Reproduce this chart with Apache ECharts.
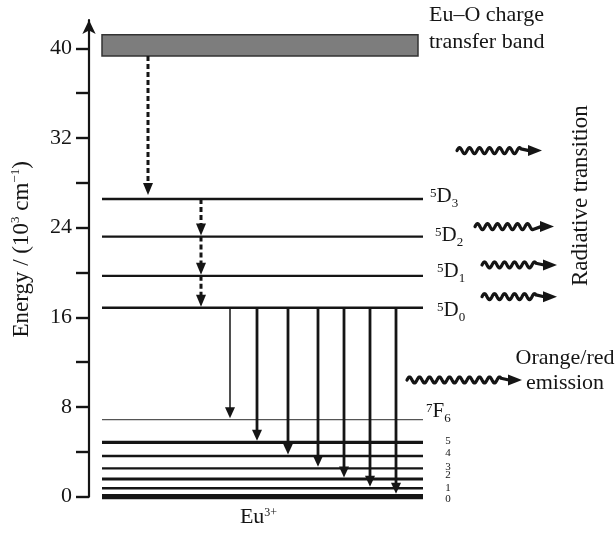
<!DOCTYPE html>
<html>
<head>
<meta charset="utf-8">
<script src="https://cdn.jsdelivr.net/npm/echarts@6/dist/echarts.min.js"></script>
<style>
  html, body { margin: 0; padding: 0; background: #fff; }
  #main { width: 616px; height: 533px; }
</style>
</head>
<body>
<div id="main"></div>
<script>
// energies in 10^3 cm^-1, x in arbitrary diagram units
var ctBand = [39.3, 41.2];
var dLevels = [26.56, 23.2, 19.7, 16.86];              // 5D3 .. 5D0
var dNames = ['3', '2', '1', '0'];
var fLevels = [6.87, 4.85, 3.63, 2.53, 1.58, 0.75, 0];  // 7F6 .. 7F0
var fNames = ['6', '5', '4', '3', '2', '1', '0'];
var levelX = [13, 334];
var bandEndX = 329;
var relaxX = [59, 112];
var emissionX = [141, 168, 199, 229, 255, 281, 307];
var waveStartX = [368, 386, 393, 393];
var waveEndX = [453, 465, 468, 468];
var radiativeY = [30.87, 24.09, 20.67, 17.84];
var orangeWaveX = [318, 433];
var orangeWaveY = 10.41;
var yTicks = [0, 4, 8, 12, 16, 20, 24, 28, 32, 36, 40];
var yLabels = [0, 8, 16, 24, 32, 40];

var FONT = 'Liberation Serif';
var INK = '#151515';
var fWidths = [1.3, 3.4, 2.4, 2.4, 2.8, 2.4, 5.2];
var dDx = [7, 12, 14, 14], dDy = [-2.5, -1.3, -4.4, 3.3];
var fDy = [-7.7, -1.6, -2.7, -1.6, -4, 0, 2.6];

var chart = echarts.init(document.getElementById('main'));

function head(tip, w, h, dir) {
  // dir 'down' or 'right'
  var pts = dir === 'right'
    ? [[tip[0], tip[1]], [tip[0] - h, tip[1] - w / 2], [tip[0] - h, tip[1] + w / 2]]
    : [[tip[0], tip[1]], [tip[0] - w / 2, tip[1] - h], [tip[0] + w / 2, tip[1] - h]];
  return { type: 'polygon', shape: { points: pts }, style: { fill: INK } };
}

function wave(p0, p1) {
  var headLen = 14, straight = 7, period = 10, amp = 3;
  var waveEnd = p1[0] - headLen - straight;
  var pts = [];
  for (var x = p0[0]; x <= waveEnd; x += 0.5) {
    pts.push([x, p0[1] - amp * Math.sin(2 * Math.PI * (x - p0[0]) / period)]);
  }
  pts.push([p1[0] - headLen + 1, p0[1]]);
  return {
    type: 'group',
    children: [
      { type: 'polyline', shape: { points: pts }, style: { stroke: INK, lineWidth: 3.2, fill: null, lineJoin: 'round', lineCap: 'round' } },
      head(p1, 11, headLen, 'right')
    ]
  };
}

var levelData = dLevels.concat(fLevels).map(function (e, i) { return [i, e]; });
var relaxSteps = [[relaxX[0], ctBand[0], dLevels[0]]].concat(
  dLevels.slice(0, 3).map(function (e, i) { return [relaxX[1], e, dLevels[i + 1]]; })
);
var waveData = waveStartX.map(function (x, i) { return [x, radiativeY[i], waveEndX[i]]; })
  .concat([[orangeWaveX[0], orangeWaveY, orangeWaveX[1]]]);

var supRich = {
  sup: { fontFamily: FONT, fontSize: 13, fill: INK, verticalAlign: 'top', height: 16 },
  main: { fontFamily: FONT, fontSize: 21, fill: INK, verticalAlign: 'middle', lineHeight: 22 },
  sub: { fontFamily: FONT, fontSize: 13, fill: INK, verticalAlign: 'bottom', height: 8 }
};

chart.setOption({
  animation: false,
  grid: { left: 89, right: 0, top: 20, bottom: 36.3, containLabel: false, outerBoundsMode: 'none' },
  xAxis: { type: 'value', min: 0, max: 527, show: false },
  yAxis: {
    type: 'value', min: 0, max: 42.52,
    axisLine: { show: true, symbol: ['none', 'arrow'], symbolSize: [10, 14], lineStyle: { color: INK, width: 2.2 } },
    axisTick: { show: true, length: 13, customValues: yTicks, lineStyle: { color: INK, width: 2.4 } },
    axisLabel: { customValues: yLabels, margin: 17, fontFamily: FONT, fontSize: 22, color: INK },
    splitLine: { show: false },
    name: 'Energy / (10{sup|3} cm{sup|\u22121})',
    nameLocation: 'middle', nameRotate: 90, nameGap: 55,
    nameTextStyle: {
      fontFamily: FONT, fontSize: 23, color: INK, lineHeight: 25, padding: [0, 0, 0, 18],
      rich: { sup: { fontFamily: FONT, fontSize: 13, color: INK, verticalAlign: 'top', height: 14 } }
    }
  },
  series: [
    {
      type: 'custom', name: 'band', silent: true,
      data: [[levelX[0], ctBand[0]]],
      renderItem: function (params, api) {
        var a = api.coord([levelX[0], ctBand[1]]);
        var b = api.coord([bandEndX, ctBand[0]]);
        return {
          type: 'rect',
          shape: { x: a[0], y: a[1], width: b[0] - a[0], height: b[1] - a[1] },
          style: { fill: '#7d7d7d', stroke: '#333', lineWidth: 1.5 }
        };
      }
    },
    {
      type: 'custom', name: 'levels', silent: true,
      data: levelData,
      renderItem: function (params, api) {
        var e = api.value(1), i = params.dataIndex;
        var a = api.coord([levelX[0], e]), b = api.coord([levelX[1], e]);
        var isF = i >= dLevels.length;
        return {
          type: 'line',
          shape: { x1: a[0], y1: a[1], x2: b[0], y2: b[1] },
          style: { stroke: i === dLevels.length ? '#555' : INK, lineWidth: isF ? fWidths[i - dLevels.length] : 2.4 }
        };
      }
    },
    {
      type: 'custom', name: 'relaxation', silent: true,
      data: relaxSteps,
      renderItem: function (params, api) {
        var x = api.value(0);
        var a = api.coord([x, api.value(1)]);
        var tip = api.coord([x, api.value(2)]);
        tip[1] -= params.dataIndex === 0 ? 4 : 1;
        return {
          type: 'group',
          children: [
            { type: 'line', shape: { x1: a[0], y1: a[1], x2: tip[0], y2: tip[1] - 5 },
              style: { stroke: INK, lineWidth: 3, lineDash: [5, 3] } },
            head(tip, 10, 12, 'down')
          ]
        };
      }
    },
    {
      type: 'custom', name: 'emission', silent: true,
      data: emissionX.map(function (x, i) { return [x, fLevels[i]]; }),
      renderItem: function (params, api) {
        var x = api.value(0);
        var top = api.coord([x, dLevels[3]]);
        var tip = api.coord([x, api.value(1)]);
        tip[1] -= params.dataIndex === fLevels.length - 1 ? 3 : 1.5;
        return {
          type: 'group',
          children: [
            { type: 'line', shape: { x1: top[0], y1: top[1], x2: tip[0], y2: tip[1] - 8 },
              style: { stroke: INK, lineWidth: params.dataIndex === 0 ? 1.5 : 2.8 } },
            head(tip, 10, 11, 'down')
          ]
        };
      }
    },
    {
      type: 'custom', name: 'waves', silent: true,
      data: waveData,
      renderItem: function (params, api) {
        var p0 = api.coord([api.value(0), api.value(1)]);
        var p1 = api.coord([api.value(2), api.value(1)]);
        return wave(p0, p1);
      }
    },
    {
      type: 'custom', name: 'labels', silent: true,
      data: [[0, 0]],
      renderItem: function (params, api) {
        var kids = [];
        dLevels.forEach(function (e, i) {
          var p = api.coord([levelX[1], e]);
          kids.push({ type: 'text', style: {
            text: '{sup|5}{main|D}{sub|' + dNames[i] + '}', rich: supRich,
            x: p[0] + dDx[i], y: p[1] + dDy[i], align: 'left', verticalAlign: 'middle'
          } });
        });
        fLevels.forEach(function (e, i) {
          var p = api.coord([levelX[1], e]);
          if (i === 0) {
            kids.push({ type: 'text', style: {
              text: '{sup|7}{main|F}{sub|' + fNames[i] + '}', rich: supRich,
              x: p[0] + 3, y: p[1] + fDy[i], align: 'left', verticalAlign: 'middle'
            } });
          } else {
            kids.push({ type: 'text', style: {
              text: fNames[i], fontFamily: FONT, fontSize: 11, fill: INK,
              x: p[0] + 25, y: p[1] + fDy[i], align: 'center', verticalAlign: 'middle'
            } });
          }
        });
        var band = api.coord([bandEndX, ctBand[1]]);
        kids.push({ type: 'text', style: {
          text: 'Eu\u2013O charge\ntransfer band', fontFamily: FONT, fontSize: 22, fill: INK, lineHeight: 27,
          x: band[0] + 11, y: band[1] - 6, align: 'left', verticalAlign: 'middle'
        } });
        var radMid = api.coord([Math.max.apply(null, waveEndX),
          (Math.max.apply(null, radiativeY) + Math.min.apply(null, radiativeY)) / 2]);
        kids.push({ type: 'text', rotation: Math.PI / 2, x: radMid[0] + 24, y: radMid[1] - 28, style: {
          text: 'Radiative transition', fontFamily: FONT, fontSize: 23, fill: INK,
          x: 0, y: 0, align: 'center', verticalAlign: 'middle'
        } });
        var ow = api.coord([orangeWaveX[1], orangeWaveY]);
        kids.push({ type: 'text', style: {
          text: 'Orange/red\nemission', fontFamily: FONT, fontSize: 22, fill: INK, lineHeight: 25,
          x: ow[0] + 43, y: ow[1] - 9.5, align: 'center', verticalAlign: 'middle'
        } });
        var base = api.coord([(levelX[0] + levelX[1]) / 2, 0]);
        kids.push({ type: 'text', style: {
          text: '{big|Eu}{sup|3+}',
          rich: {
            big: { fontFamily: FONT, fontSize: 22, fill: INK, verticalAlign: 'middle', lineHeight: 24 },
            sup: { fontFamily: FONT, fontSize: 12, fill: INK, verticalAlign: 'top', height: 14 }
          },
          x: base[0] - 4, y: base[1] + 21, align: 'center', verticalAlign: 'middle'
        } });
        return { type: 'group', children: kids };
      }
    }
  ]
});
</script>
</body>
</html>
